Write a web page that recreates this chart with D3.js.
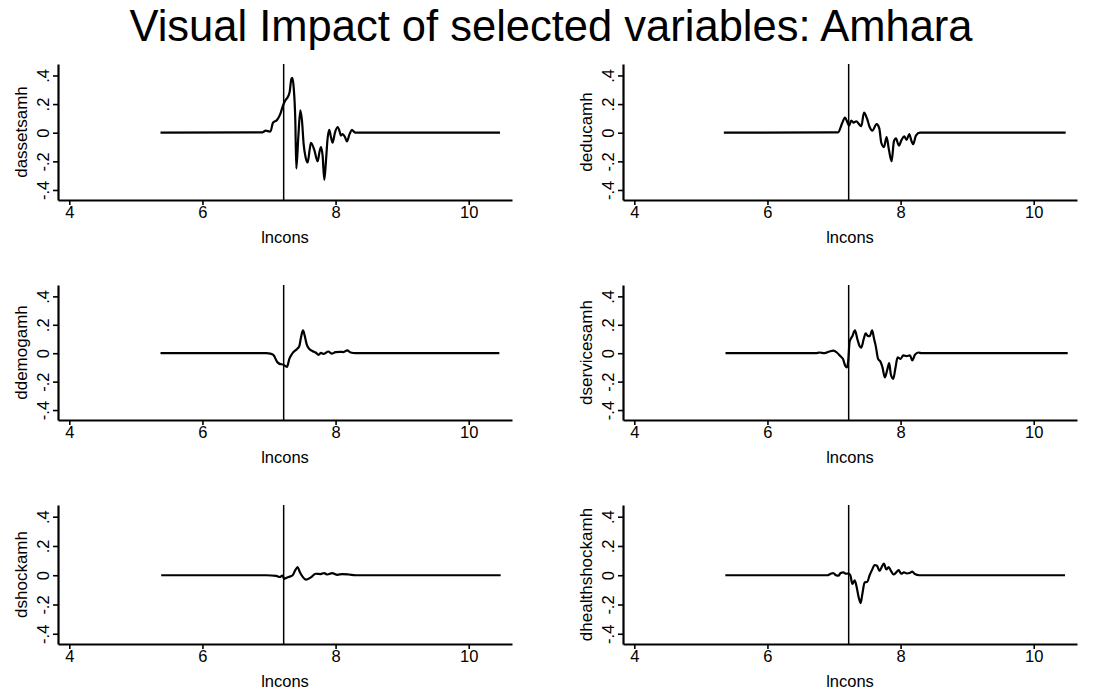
<!DOCTYPE html>
<html>
<head>
<meta charset="utf-8">
<script src="https://cdn.jsdelivr.net/npm/d3@7"></script>
<style>
  html, body { margin: 0; padding: 0; background: #fff; }
  svg { display: block; }
  text { font-family: "Liberation Sans", Arial, Helvetica, sans-serif; fill: #000; }
</style>
</head>
<body>
<svg id="chart" width="1103" height="695"></svg>
<script>
// Mean of lncons, drawn as the reference vertical line in every panel
const meanLncons = 7.22;

// Tick values and their labels
const xTicks = [4, 6, 8, 10];
const yTicks = [-0.4, -0.2, 0, 0.2, 0.4];
const yTickLabels = ["-.4", "-.2", "0", ".2", ".4"];

// dassetsamh against lncons
const xAssets = [5.37, 6.9, 6.95, 7.0, 7.02, 7.06, 7.12, 7.17, 7.21, 7.245, 7.28, 7.31, 7.335, 7.35, 7.37, 7.395,
  7.41, 7.44, 7.47, 7.495, 7.52, 7.55, 7.58, 7.61, 7.63, 7.68, 7.73, 7.76, 7.78, 7.805, 7.83, 7.855, 7.88, 7.905,
  7.93, 7.955, 7.99, 8.03, 8.06, 8.08, 8.105, 8.14, 8.17, 8.21, 8.245, 8.28, 8.31, 10.47];
const dassetsamh = [0, 0.003, 0.014, 0.009, 0.007, 0.07, 0.089, 0.131, 0.19, 0.225, 0.248, 0.285, 0.375, 0.384, 0.318, 0.084,
  -0.25, -0.03, 0.157, 0.084, -0.08, -0.173, -0.208, -0.12, -0.07, -0.12, -0.2, -0.13, -0.1, -0.16, -0.33, -0.2, -0.04, 0.02,
  -0.03, -0.07, 0.0, 0.04, 0.01, -0.02, -0.01, -0.03, -0.06, -0.01, 0.02, 0.005, 0, 0];

// deducamh against lncons
const xEduc = [5.345, 6.96, 7.06, 7.125, 7.165, 7.195, 7.225, 7.26, 7.295, 7.335, 7.375, 7.41, 7.45, 7.495, 7.535,
  7.575, 7.64, 7.68, 7.71, 7.75, 7.79, 7.825, 7.865, 7.9, 7.93, 7.975, 8.015, 8.055, 8.09, 8.13, 8.165, 8.19, 8.23, 8.29, 10.48];
const deducamh = [0, 0.002, 0.003, 0.07, 0.106, 0.08, 0.05, 0.085, 0.07, 0.08, 0.06, 0.045, 0.14, 0.1, 0.04,
  0.015, 0.06, 0.03, -0.07, -0.1, -0.03, -0.12, -0.2, -0.06, -0.04, -0.09, -0.05, -0.025, -0.05, -0.01, -0.06, -0.08, -0.02, 0, 0];

// ddemogamh against lncons
const xDemog = [5.37, 6.96, 7.02, 7.07, 7.12, 7.16, 7.21, 7.27, 7.305, 7.35, 7.42, 7.455, 7.48, 7.51, 7.535, 7.565,
  7.6, 7.65, 7.7, 7.745, 7.78, 7.825, 7.89, 7.94, 8.0, 8.07, 8.12, 8.175, 8.225, 8.3, 10.46];
const ddemogamh = [0, 0, -0.003, -0.015, -0.06, -0.075, -0.08, -0.096, -0.04, -0.002, 0.03, 0.05, 0.11, 0.16, 0.125, 0.064,
  0.033, 0.016, 0.005, -0.012, 0.002, -0.005, 0.012, -0.003, 0.008, 0.01, 0.008, 0.02, 0.005, 0, 0];

// dservicesamh against lncons
const xServices = [5.37, 6.73, 6.78, 6.856, 6.93, 6.99, 7.043, 7.093, 7.134, 7.17, 7.194, 7.214, 7.234, 7.275, 7.315,
  7.35, 7.385, 7.41, 7.446, 7.476, 7.511, 7.537, 7.572, 7.602, 7.627, 7.662, 7.698, 7.728, 7.763, 7.798, 7.829,
  7.854, 7.889, 7.924, 7.955, 8.0, 8.04, 8.091, 8.14, 8.176, 8.217, 8.267, 8.317, 10.51];
const dservicesamh = [0, 0, 0.005, 0, 0.012, 0.018, 0.005, -0.02, -0.04, -0.09, -0.1, -0.05, 0.08, 0.12, 0.16,
  0.1, 0.05, 0.04, 0.1, 0.14, 0.12, 0.12, 0.16, 0.1, 0.05, -0.04, -0.06, -0.1, -0.17, -0.12, -0.07,
  -0.15, -0.18, -0.1, -0.03, -0.04, -0.015, -0.02, -0.015, -0.05, -0.01, 0.005, 0, 0];

// dshockamh against lncons
const xShock = [5.38, 6.91, 6.96, 7.11, 7.16, 7.2, 7.23, 7.25, 7.305, 7.355, 7.395, 7.43, 7.464, 7.504, 7.553,
  7.628, 7.702, 7.777, 7.826, 7.876, 7.95, 8.025, 8.1, 8.2, 8.3, 10.48];
const dshockamh = [0, 0, 0, -0.005, -0.012, -0.003, -0.025, -0.02, -0.01, 0.0, 0.035, 0.055, 0.02, -0.01, -0.03,
  -0.015, 0.01, 0.008, 0.015, 0.005, 0.015, 0.003, 0.008, 0.005, 0, 0];

// dhealthshockamh against lncons
const xHealth = [5.367, 6.85, 6.9, 6.95, 6.99, 7.03, 7.065, 7.1, 7.14, 7.18, 7.215, 7.245, 7.275, 7.31, 7.335,
  7.37, 7.4, 7.425, 7.46, 7.5, 7.535, 7.575, 7.61, 7.645, 7.685, 7.72, 7.75, 7.785, 7.82, 7.855, 7.895, 7.935,
  7.97, 8.01, 8.05, 8.095, 8.135, 8.175, 8.215, 8.28, 10.47];
const dhealthshockamh = [0, 0, 0, 0.01, 0.015, 0.0, -0.003, 0.015, 0.02, 0.01, 0.012, 0.0, -0.06, -0.035, -0.07,
  -0.15, -0.19, -0.13, -0.05, -0.045, 0.0, 0.04, 0.07, 0.065, 0.03, 0.06, 0.08, 0.04, 0.055, 0.03, 0.005, 0.02,
  0.035, 0.01, 0.02, 0.012, 0.015, 0.025, 0.008, 0, 0];

const panels = [
  { name: "dassetsamh", x: xAssets, y: dassetsamh, col: 0, row: 0 },
  { name: "deducamh", x: xEduc, y: deducamh, col: 1, row: 0 },
  { name: "ddemogamh", x: xDemog, y: ddemogamh, col: 0, row: 1 },
  { name: "dservicesamh", x: xServices, y: dservicesamh, col: 1, row: 1 },
  { name: "dshockamh", x: xShock, y: dshockamh, col: 0, row: 2 },
  { name: "dhealthshockamh", x: xHealth, y: dhealthshockamh, col: 1, row: 2 }
];

// Panel grid geometry
const colX = [[58, 512], [623, 1077]];
const rowY = [[200, 64], [420, 285], [644, 505]];
const xDomain = [3.83, 10.65];
const yDomain = [-0.47, 0.48];

const svg = d3.select("#chart");

svg.append("text")
  .attr("x", 551).attr("y", 41)
  .attr("text-anchor", "middle")
  .style("font-size", "43.5px")
  .text("Visual Impact of selected variables: Amhara");

panels.forEach(p => {
  const [x0, x1] = colX[p.col];
  const [yb, yt] = rowY[p.row];
  const x = d3.scaleLinear().domain(xDomain).range([x0, x1]);
  const y = d3.scaleLinear().domain(yDomain).range([yb, yt]);
  const g = svg.append("g");

  // x axis
  const xAxis = g.append("g").attr("transform", `translate(0,${yb})`)
    .call(d3.axisBottom(x).tickValues(xTicks).tickFormat(d3.format("d")).tickSize(5).tickSizeOuter(0));
  xAxis.select(".domain").attr("stroke-width", 2.2);
  xAxis.selectAll(".tick line").attr("stroke-width", 1.6);
  xAxis.selectAll(".tick text").attr("dy", null).attr("y", 18)
    .style("font-size", "16.5px").style("font-family", "Liberation Sans, Arial, sans-serif");

  // y axis
  const yAxis = g.append("g").attr("transform", `translate(${x0},0)`)
    .call(d3.axisLeft(y).tickValues(yTicks).tickFormat((d, i) => yTickLabels[i]).tickSize(5).tickSizeOuter(0));
  yAxis.select(".domain").attr("stroke-width", 2.2);
  yAxis.selectAll(".tick line").attr("stroke-width", 1.6);
  yAxis.selectAll(".tick text")
    .attr("x", null).attr("dy", null)
    .attr("text-anchor", "middle")
    .attr("dominant-baseline", "central")
    .attr("transform", "translate(-15,0) rotate(-90)")
    .style("font-size", "16.5px").style("font-family", "Liberation Sans, Arial, sans-serif");

  // axis titles
  g.append("text")
    .attr("transform", `translate(${x0 - 37},${(yb + yt) / 2}) rotate(-90)`)
    .attr("text-anchor", "middle")
    .attr("dominant-baseline", "central")
    .style("font-size", "17px")
    .text(p.name);
  g.append("text")
    .attr("x", (x0 + x1) / 2).attr("y", yb + 43)
    .attr("text-anchor", "middle")
    .style("font-size", "16.5px")
    .text("lncons");

  // mean line
  g.append("line")
    .attr("x1", x(meanLncons)).attr("x2", x(meanLncons))
    .attr("y1", y(yDomain[1])).attr("y2", y(yDomain[0]))
    .attr("stroke", "#000").attr("stroke-width", 1.5);

  // difference curve
  const pts = p.x.map((v, i) => [v, p.y[i]]);
  g.append("path")
    .datum(pts)
    .attr("fill", "none")
    .attr("stroke", "#000")
    .attr("stroke-width", 2.2)
    .attr("stroke-linejoin", "round")
    .attr("d", d3.line().x(d => x(d[0])).y(d => y(d[1])).curve(d3.curveMonotoneX));
});
</script>
</body>
</html>
